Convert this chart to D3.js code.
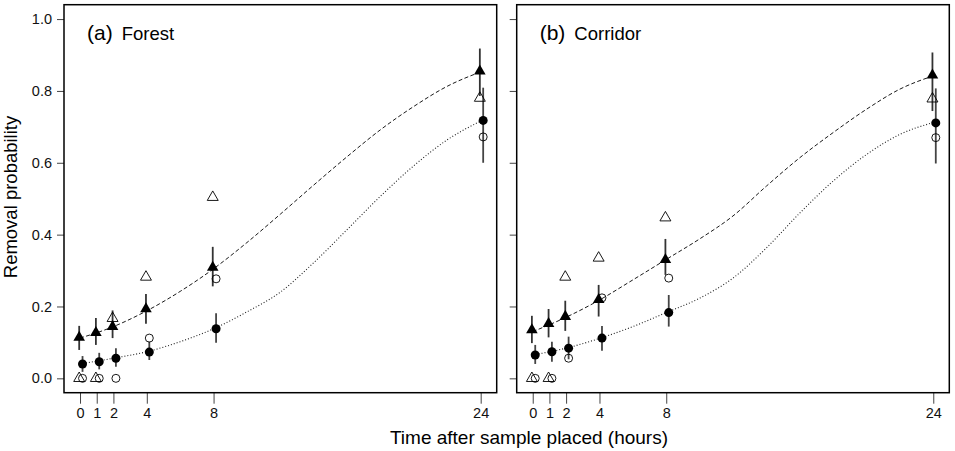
<!DOCTYPE html>
<html>
<head>
<meta charset="utf-8">
<script src="https://cdn.jsdelivr.net/npm/d3@7"></script>
<style>
  body { margin: 0; background: #fff; }
  svg { font-family: "Liberation Sans", Arial, sans-serif; }
</style>
</head>
<body>
<svg id="chart" width="955" height="451"></svg>
<script>
// sample times (hours) and axis ticks
const hours = [0, 1, 2, 4, 8, 24];
const xTicks = [0, 1, 2, 4, 8, 24];
const yTicks = [0, 0.2, 0.4, 0.6, 0.8, 1.0];

// (a) Forest
const forestTri = [0.114, 0.127, 0.144, 0.193, 0.309, 0.855];
const forestTriLo = [0.079, 0.093, 0.112, 0.152, 0.256, 0.786];
const forestTriHi = [0.146, 0.168, 0.189, 0.235, 0.366, 0.918];
const forestCirc = [0.040, 0.046, 0.056, 0.073, 0.138, 0.718];
const forestCircLo = [0.018, 0.025, 0.032, 0.051, 0.099, 0.600];
const forestCircHi = [0.062, 0.071, 0.084, 0.102, 0.181, 0.809];
const forestOpenTri = [0, 0, 0.167, 0.282, 0.504, 0.780];
const forestOpenCirc = [0, 0, 0, 0.112, 0.277, 0.672];

// (b) Corridor
const corridorTri = [0.135, 0.152, 0.172, 0.219, 0.330, 0.844];
const corridorTriLo = [0.098, 0.114, 0.132, 0.172, 0.288, 0.744];
const corridorTriHi = [0.174, 0.193, 0.216, 0.260, 0.388, 0.907];
const corridorCirc = [0.065, 0.074, 0.084, 0.112, 0.183, 0.711];
const corridorCircLo = [0.040, 0.046, 0.053, 0.077, 0.144, 0.598];
const corridorCircHi = [0.093, 0.102, 0.116, 0.146, 0.232, 0.807];
const corridorOpenTri = [0, 0, 0.282, 0.335, 0.447, 0.778];
const corridorOpenCirc = [0, 0, 0.056, 0.224, 0.279, 0.670];

// fitted curves
const fitHours = [0, 2, 4, 6, 8, 10, 12, 14, 16, 18, 20, 22, 24];
const forestTriFit = [0.112, 0.144, 0.188, 0.242, 0.305, 0.378, 0.457, 0.538, 0.617, 0.692, 0.757, 0.813, 0.853];
const forestCircFit = [0.040, 0.056, 0.074, 0.102, 0.138, 0.185, 0.240, 0.322, 0.414, 0.507, 0.592, 0.664, 0.716];
const corridorTriFit = [0.130, 0.170, 0.218, 0.274, 0.331, 0.388, 0.452, 0.535, 0.614, 0.684, 0.749, 0.805, 0.842];
const corridorCircFit = [0.065, 0.084, 0.111, 0.144, 0.183, 0.223, 0.279, 0.363, 0.460, 0.549, 0.623, 0.679, 0.712];

const panels = [
  { tag: "(a)", name: "Forest", left: 64, right: 496.7, yLabels: true,
    tri: forestTri, triLo: forestTriLo, triHi: forestTriHi,
    circ: forestCirc, circLo: forestCircLo, circHi: forestCircHi,
    openTri: forestOpenTri, openCirc: forestOpenCirc,
    triFit: forestTriFit, circFit: forestCircFit },
  { tag: "(b)", name: "Corridor", left: 516.7, right: 949.3, yLabels: false,
    tri: corridorTri, triLo: corridorTriLo, triHi: corridorTriHi,
    circ: corridorCirc, circLo: corridorCircLo, circHi: corridorCircHi,
    openTri: corridorOpenTri, openCirc: corridorOpenCirc,
    triFit: corridorTriFit, circFit: corridorCircFit }
];

const svg = d3.select("#chart");
const boxTop = 4.7, boxBottom = 392.7;

// R style 4% padding on both axes
const y = d3.scaleLinear().domain([-0.04, 1.04]).range([boxBottom, boxTop]);

const triOff = -0.05, circOff = 0.15;   // small horizontal jitter
const filledTri = d3.symbol().type(d3.symbolTriangle).size(58);
const openTriSym = d3.symbol().type(d3.symbolTriangle).size(52);

panels.forEach(p => {
  const x = d3.scaleLinear().domain([-0.96, 24.96]).range([p.left, p.right]);
  const g = svg.append("g");

  // axes
  const yAxis = d3.axisLeft(y).tickValues(yTicks).tickSize(7).tickPadding(5)
    .tickFormat(p.yLabels ? d3.format(".1f") : "");
  g.append("g").attr("transform", `translate(${p.left},0)`).call(yAxis)
    .call(a => a.select(".domain").remove());

  const xAxis = d3.axisBottom(x).tickValues(xTicks).tickSize(11).tickPadding(4)
    .tickFormat(d3.format("d"));
  g.append("g").attr("transform", `translate(0,${boxBottom})`).call(xAxis)
    .call(a => a.select(".domain").remove());

  g.selectAll(".tick line").attr("stroke", "#444").attr("stroke-width", 1);
  g.selectAll(".tick text").attr("font-size", 14.5).attr("fill", "#111")
    .attr("font-family", "Liberation Sans, Arial, sans-serif");

  // fitted curves
  const line = d3.line().x((d, i) => x(fitHours[i])).y(d => y(d)).curve(d3.curveMonotoneX);
  g.append("path").attr("d", line(p.triFit)).attr("fill", "none")
    .attr("stroke", "#1a1a1a").attr("stroke-width", 1).attr("stroke-dasharray", "4,2.4");
  g.append("path").attr("d", line(p.circFit)).attr("fill", "none")
    .attr("stroke", "#222").attr("stroke-width", 1.1).attr("stroke-dasharray", "1,2");

  // error bars
  g.selectAll(".ebTri").data(hours).enter().append("line")
    .attr("x1", d => x(d + triOff)).attr("x2", d => x(d + triOff))
    .attr("y1", (d, i) => y(p.triLo[i])).attr("y2", (d, i) => y(p.triHi[i]))
    .attr("stroke", "#333").attr("stroke-width", 1.8);
  g.selectAll(".ebCirc").data(hours).enter().append("line")
    .attr("x1", d => x(d + circOff)).attr("x2", d => x(d + circOff))
    .attr("y1", (d, i) => y(p.circLo[i])).attr("y2", (d, i) => y(p.circHi[i]))
    .attr("stroke", "#444").attr("stroke-width", 1.8);

  // points
  g.selectAll(".fTri").data(hours).enter().append("path")
    .attr("d", filledTri)
    .attr("transform", (d, i) => `translate(${x(d + triOff)},${y(p.tri[i])})`)
    .attr("fill", "#000");
  g.selectAll(".fCirc").data(hours).enter().append("circle")
    .attr("cx", d => x(d + circOff)).attr("cy", (d, i) => y(p.circ[i]))
    .attr("r", 4.5).attr("fill", "#000");
  g.selectAll(".oTri").data(hours).enter().append("path")
    .attr("d", openTriSym)
    .attr("transform", (d, i) => `translate(${x(d + triOff)},${y(p.openTri[i])})`)
    .attr("fill", "none").attr("stroke", "#000").attr("stroke-width", 0.9);
  g.selectAll(".oCirc").data(hours).enter().append("circle")
    .attr("cx", d => x(d + circOff)).attr("cy", (d, i) => y(p.openCirc[i]))
    .attr("r", 4).attr("fill", "none").attr("stroke", "#000").attr("stroke-width", 0.9);

  // frame
  g.append("rect").attr("x", p.left).attr("y", boxTop)
    .attr("width", p.right - p.left).attr("height", boxBottom - boxTop)
    .attr("fill", "none").attr("stroke", "#000").attr("stroke-width", 1.5);

  // panel label
  const t = g.append("text").attr("x", p.left + 23).attr("y", 39.5).attr("fill", "#000");
  t.append("tspan").attr("font-size", 21).text(p.tag);
  t.append("tspan").attr("font-size", 18.5).attr("dx", 9).text(p.name);
});

// axis titles
svg.append("text").attr("x", 529).attr("y", 444).attr("text-anchor", "middle")
  .attr("font-size", 19).attr("fill", "#000").text("Time after sample placed (hours)");
svg.append("text").attr("transform", "translate(17,197) rotate(-90)")
  .attr("text-anchor", "middle").attr("font-size", 18.5).attr("fill", "#000")
  .text("Removal probability");
</script>
</body>
</html>
